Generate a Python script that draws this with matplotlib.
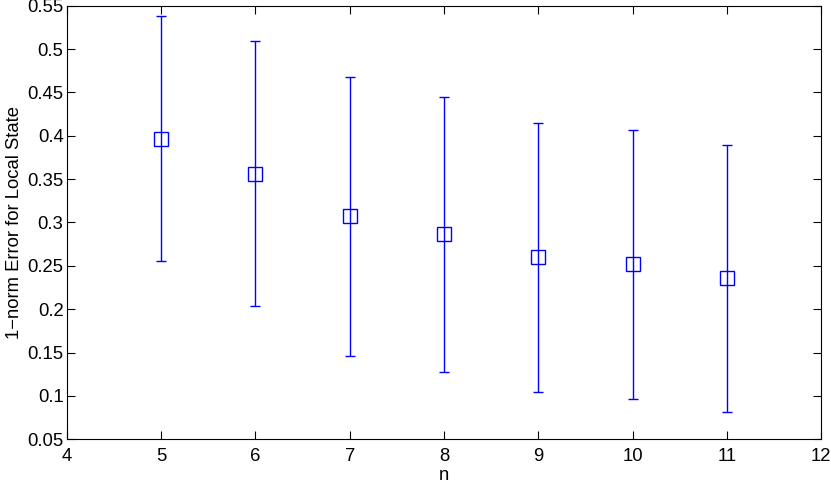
import matplotlib
matplotlib.use("Agg")
import matplotlib.pyplot as plt

n = [5, 6, 7, 8, 9, 10, 11]
err_mean = [0.396, 0.3555, 0.3078, 0.287, 0.2598, 0.2517, 0.2356]
err_upper = [0.5385, 0.509, 0.4678, 0.445, 0.415, 0.4066, 0.3897]
err_lower = [0.2555, 0.204, 0.146, 0.128, 0.104, 0.0964, 0.0817]

plt.rcParams['font.family'] = ['Liberation Sans', 'DejaVu Sans']
plt.rcParams['font.size'] = 13.3

fig = plt.figure(figsize=(8.31, 4.84), dpi=100)
ax = fig.add_axes([0.0806, 0.0924, 0.9074, 0.8958])

yerr = [[m - lo for m, lo in zip(err_mean, err_lower)],
        [hi - m for m, hi in zip(err_mean, err_upper)]]
ax.errorbar(n, err_mean, yerr=yerr, fmt='s', color='blue', mfc='none',
            mec='blue', ms=10, mew=1.0, elinewidth=1.0, capsize=3.6,
            capthick=1.0, ecolor='blue')

ax.set_xlim(4, 12)
ax.set_ylim(0.05, 0.55)
ax.set_xticks(range(4, 13))
ax.set_yticks([0.05, 0.1, 0.15, 0.2, 0.25, 0.3, 0.35, 0.4, 0.45, 0.5, 0.55])
ax.set_yticklabels(['0.05', '0.1', '0.15', '0.2', '0.25', '0.3', '0.35',
                    '0.4', '0.45', '0.5', '0.55'])
ax.tick_params(direction='in', top=True, right=True, length=5.5, width=0.8,
               labelsize=13.3)
ax.tick_params(axis='x', pad=6)
ax.tick_params(axis='y', pad=2.5)
for sp in ax.spines.values():
    sp.set_linewidth(0.8)

ax.set_xlabel("n", fontsize=13.3, labelpad=2)
ax.set_ylabel("1\u2212norm Error for Local State", fontsize=13.3, labelpad=3)

plt.savefig("out.png", dpi=100)
